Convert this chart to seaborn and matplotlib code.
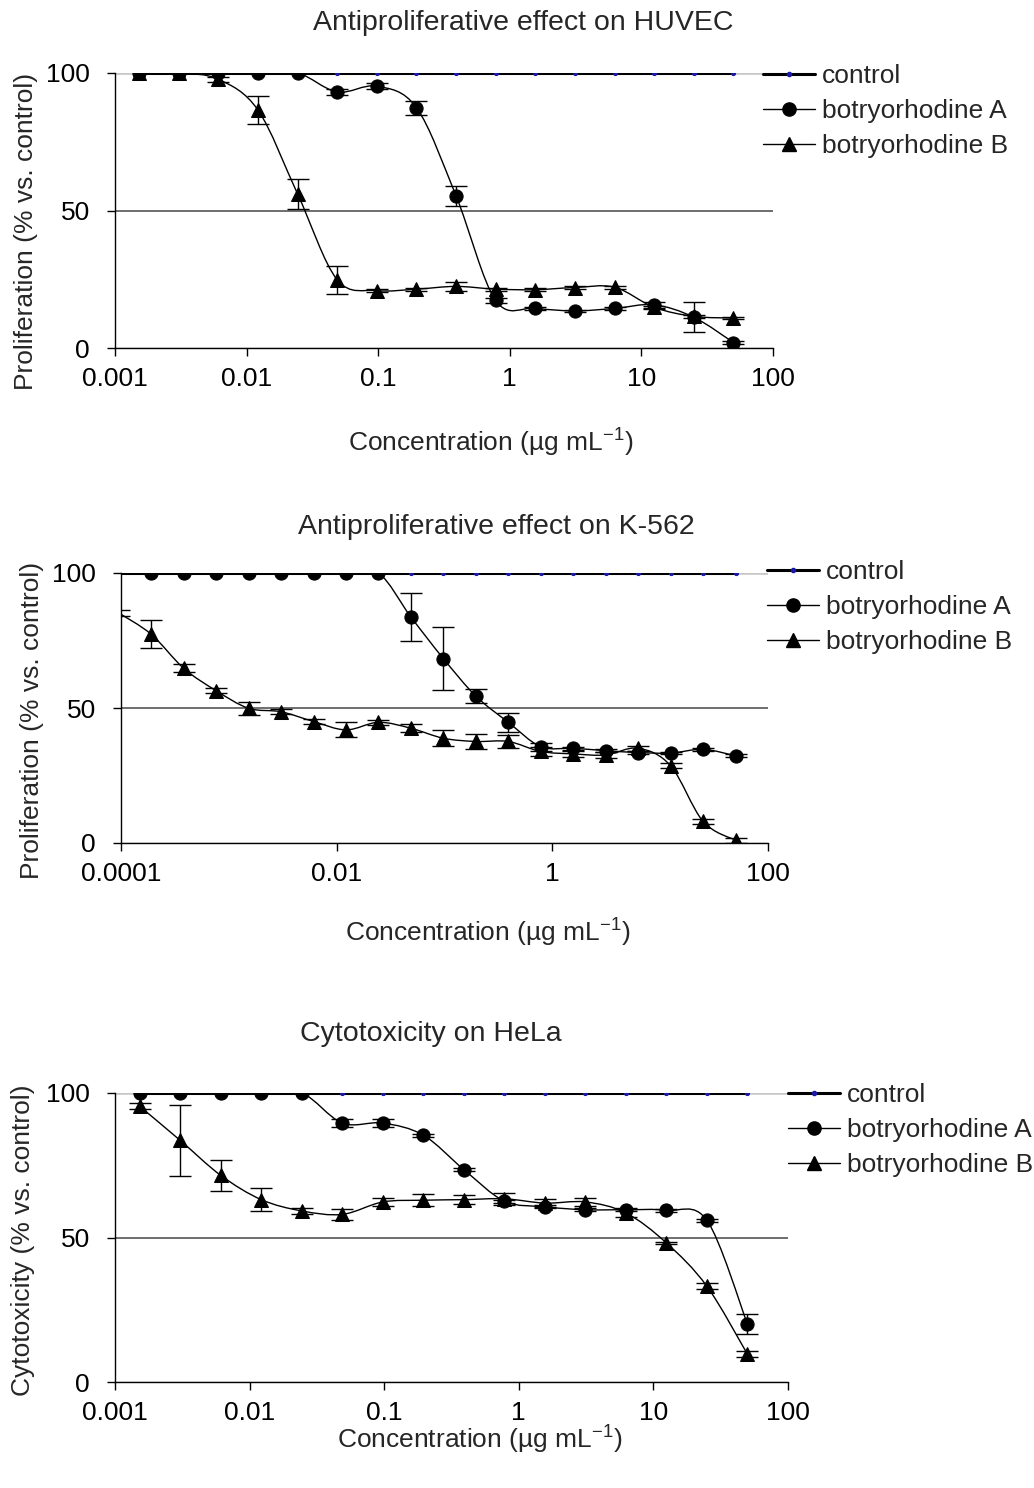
import numpy as np
import pandas as pd
import seaborn as sns
import matplotlib
matplotlib.use("Agg")
import matplotlib.pyplot as plt
from matplotlib.path import Path
from matplotlib.patches import PathPatch
from matplotlib.lines import Line2D
from matplotlib.ticker import NullLocator

# ---------------- data ----------------
conc_16 = [0.001526, 0.003052, 0.006104, 0.01221, 0.02441, 0.04883, 0.09766, 0.1953,
           0.3906, 0.7813, 1.5625, 3.125, 6.25, 12.5, 25, 50]
conc_20 = [0.00009537, 0.0001907, 0.0003815, 0.0007629, 0.001526, 0.003052, 0.006104,
           0.01221, 0.02441, 0.04883, 0.09766, 0.1953, 0.3906, 0.7813, 1.5625, 3.125,
           6.25, 12.5, 25, 50]

huvec_control = [100] * 16
huvec_a = [100, 100, 100, 100, 100, 93.1, 95.2, 87.4, 55.3, 17.3, 14.5, 13.5, 14.4, 15.7, 11.2, 2.0]
huvec_a_err = [0, 0, 0, 0, 0, 1, 1, 2.5, 3.7, 1, 0.5, 0.5, 0.5, 1, 5.5, 0.5]
huvec_b = [100, 100, 97.7, 86.5, 56.0, 24.8, 20.9, 21.4, 22.4, 21.4, 21.2, 22.0, 22.1, 14.8, 11.5, 10.9]
huvec_b_err = [0, 0, 1, 5, 5.6, 5, 0.5, 0.5, 1.5, 0.5, 0.5, 0.5, 0.5, 0.5, 0.5, 0.5]

k562_control = [100] * 20
k562_a = [np.nan, 100, 100, 100, 100, 100, 100, 100, 100, 83.7, 68.3, 54.4, 44.7, 35.7,
          35.1, 34.2, 33.5, 33.3, 34.7, 32.3]
k562_a_err = [0, 0, 0, 0, 0, 0, 0, 0, 0, 9, 11.8, 2.7, 3.5, 1.5, 0.5, 0.5, 0.5, 0.5, 0.5, 0.5]
k562_b = [85.2, 77.3, 64.7, 56.4, 49.9, 48.6, 45.0, 41.9, 44.7, 42.5, 38.8, 37.6, 37.6,
          33.9, 33.0, 32.6, 35.1, 28.6, 8.0, 1.0]
k562_b_err = [1, 5.2, 1.5, 1, 2.5, 1, 1, 2.8, 1, 1.5, 3, 2.7, 2.5, 1.5, 1, 1, 1, 1, 1, 1]

hela_control = [100] * 16
hela_a = [100, 100, 100, 100, 100, 89.6, 89.6, 85.4, 73.5, 62.6, 60.6, 59.6, 59.6, 59.4, 55.9, 20.0]
hela_a_err = [0, 0, 0, 0, 0, 1.5, 1.5, 0.5, 0.5, 0.5, 0.5, 0.5, 0.5, 0.5, 0.5, 3.5]
hela_b = [95.4, 83.6, 71.5, 63.1, 59.2, 58.0, 62.3, 62.9, 63.1, 63.4, 61.9, 62.3, 58.5, 48.1, 33.1, 9.6]
hela_b_err = [1, 12.3, 5.3, 4.0, 1.0, 2.0, 1.5, 2.0, 1.5, 2.0, 1.5, 1.5, 1.5, 0.5, 1.0, 1.0]

ticks_a = [0.001, 0.01, 0.1, 1, 10, 100]
ticklabels_a = ["0.001", "0.01", "0.1", "1", "10", "100"]
ticks_b = [0.0001, 0.01, 1, 100]
ticklabels_b = ["0.0001", "0.01", "1", "100"]
yticks = [0, 50, 100]
ytick_labels = ["0", "50", "100"]

series_names = ["control", "botryorhodine A", "botryorhodine B"]
titles = ["Antiproliferative effect on HUVEC", "Antiproliferative effect on K-562",
          "Cytotoxicity on HeLa"]
ylabels = ["Proliferation (% vs. control)", "Proliferation (% vs. control)",
           "Cytotoxicity (% vs. control)"]
xlabel = "Concentration (\u00b5g mL$^{-1}$)"

# ---------------- style ----------------
sns.set_theme(style="white")
plt.rcParams["font.family"] = ["Liberation Sans", "DejaVu Sans"]
plt.rcParams["mathtext.fontset"] = "custom"
plt.rcParams["mathtext.rm"] = "Liberation Sans"
plt.rcParams["mathtext.it"] = "Liberation Sans:italic"
plt.rcParams["mathtext.default"] = "regular"

W, H = 1034, 1488
DPI = 100
FS = 19
TFS = 20.5
BLUE = "#1a1aa6"

fig = plt.figure(figsize=(W / DPI, H / DPI), dpi=DPI)
fig.patch.set_facecolor("white")


def px_axes(left, right, top, bottom):
    return fig.add_axes([left / W, 1 - bottom / H, (right - left) / W, (bottom - top) / H])


def smooth_curve(ax, x, y, **kw):
    x = np.asarray(x, float)
    y = np.asarray(y, float)
    m = np.isfinite(y)
    pts = np.column_stack([np.log10(x[m]), y[m]])
    n = len(pts)
    verts = [pts[0]]
    codes = [Path.MOVETO]
    for i in range(n - 1):
        p0 = pts[i - 1] if i > 0 else pts[i]
        p1 = pts[i]
        p2 = pts[i + 1]
        p3 = pts[i + 2] if i + 2 < n else pts[i + 1]
        c1 = p1 + (p2 - p0) / 6.0
        c2 = p2 - (p3 - p1) / 6.0
        verts += [c1, c2, p2]
        codes += [Path.CURVE4] * 3
    verts = np.array(verts)
    verts[:, 0] = 10 ** verts[:, 0]
    patch = PathPatch(Path(verts, codes), facecolor="none", transform=ax.transData, **kw)
    ax.add_patch(patch)


def draw_panel(ax, conc, control, a, a_err, b, b_err, xlim, xt, xtl):
    conc = np.asarray(conc, float)
    df = pd.DataFrame({"conc": conc, "control": control, "A": a, "B": b,
                       "Aerr": a_err, "Berr": b_err})
    ax.set_xscale("log")
    ax.set_xlim(*xlim)
    ax.set_ylim(0, 100)

    # control
    sns.lineplot(data=df, x="conc", y="control", ax=ax, color="black", lw=2.2,
                 marker="o", markersize=3, markerfacecolor=BLUE, markeredgecolor=BLUE,
                 estimator=None, sort=False, zorder=2)
    # smoothed lines
    smooth_curve(ax, df["conc"], df["A"], edgecolor="black", lw=1.0, zorder=2.5)
    smooth_curve(ax, df["conc"], df["B"], edgecolor="black", lw=1.0, zorder=2.5)
    # error bars
    for col, ecol in (("A", "Aerr"), ("B", "Berr")):
        sub = df[(df[ecol] > 0) & df[col].notna()]
        ax.errorbar(sub["conc"], sub[col], yerr=sub[ecol], fmt="none", ecolor="black",
                    elinewidth=1.0, capsize=8, capthick=1.0, zorder=3)
    # markers (only those inside the x range)
    vis = df[df["conc"] >= xlim[0]]
    sns.lineplot(data=vis, x="conc", y="A", ax=ax, color="black", linestyle="none",
                 marker="o", markersize=9.5, markeredgecolor="black",
                 estimator=None, sort=False, zorder=4)
    sns.lineplot(data=vis, x="conc", y="B", ax=ax, color="black", linestyle="none",
                 marker="^", markersize=9.5, markeredgecolor="black",
                 estimator=None, sort=False, zorder=4)

    ax.set_xticks(xt, xtl)
    ax.xaxis.set_minor_locator(NullLocator())
    ax.set_yticks(yticks, ytick_labels)
    ax.set_axisbelow(True)
    ax.yaxis.grid(True)
    ax.xaxis.grid(False)
    for gl, c, lw in zip(ax.get_ygridlines(), ["#999999", "#555555", "#c8c8c8"], [1.0, 1.2, 2.6]):
        gl.set_color(c)
        gl.set_linewidth(lw)
    for s in ("top", "right"):
        ax.spines[s].set_visible(False)
    for s in ("left", "bottom"):
        ax.spines[s].set_color("black")
        ax.spines[s].set_linewidth(1.0)
    ax.tick_params(axis="both", which="major", direction="out", length=6, width=1.0,
                   color="black", labelsize=FS, labelcolor="black")
    ax.tick_params(axis="y", pad=12)
    ax.tick_params(axis="x", pad=8, bottom=True)
    ax.tick_params(axis="y", left=True)
    ax.set_xlabel("")
    ax.set_ylabel("")


def add_legend(ax, x_px, top_px):
    handles = [
        Line2D([], [], color="black", lw=2.2, marker="o", ms=3, mfc=BLUE, mec=BLUE),
        Line2D([], [], color="black", lw=1.0, marker="o", ms=9.5, mfc="black", mec="black"),
        Line2D([], [], color="black", lw=1.0, marker="^", ms=9.5, mfc="black", mec="black"),
    ]
    fs_px = FS * DPI / 72
    ax.legend(handles, series_names, loc="upper left",
              bbox_to_anchor=(x_px / W, 1 - top_px / H), bbox_transform=fig.transFigure,
              frameon=False, fontsize=FS, borderpad=0, borderaxespad=0,
              handlelength=52 / fs_px, handletextpad=7 / fs_px, labelspacing=0.42)


# ---------------- panels ----------------
ax1 = px_axes(115, 773, 73, 348)
draw_panel(ax1, conc_16, huvec_control, huvec_a, huvec_a_err, huvec_b, huvec_b_err,
           (0.001, 100), ticks_a, ticklabels_a)
add_legend(ax1, 763, 64)

ax2 = px_axes(121, 768, 573, 843)
draw_panel(ax2, conc_20, k562_control, k562_a, k562_a_err, k562_b, k562_b_err,
           (0.0001, 100), ticks_b, ticklabels_b)
add_legend(ax2, 767, 560)

ax3 = px_axes(115, 788, 1093, 1382)
draw_panel(ax3, conc_16, hela_control, hela_a, hela_a_err, hela_b, hela_b_err,
           (0.001, 100), ticks_a, ticklabels_a)
add_legend(ax3, 788, 1083)

# titles
fig.text(313 / W, 1 - 30 / H, titles[0], ha="left", va="baseline", fontsize=TFS)
fig.text(298 / W, 1 - 534 / H, titles[1], ha="left", va="baseline", fontsize=TFS)
fig.text(300 / W, 1 - 1041 / H, titles[2], ha="left", va="baseline", fontsize=TFS)

# axis labels
for ax, yl, (lx, ly_px), (yx_px, yy_px), (left, right, top, bottom) in [
    (ax1, ylabels[0], (491, 452), (26, 231), (115, 773, 73, 348)),
    (ax2, ylabels[1], (488, 942), (32, 720), (121, 768, 573, 843)),
    (ax3, ylabels[2], (480, 1449), (23, 1240), (115, 788, 1093, 1382)),
]:
    ax.set_xlabel(xlabel, fontsize=FS, va="baseline", ha="center")
    ax.xaxis.set_label_coords((lx - left) / (right - left), -(ly_px - bottom) / (bottom - top))
    ax.set_ylabel(yl, fontsize=FS, va="center", ha="center", rotation=90)
    ax.yaxis.set_label_coords((yx_px - left) / (right - left), (bottom - yy_px) / (bottom - top))

fig.savefig("out.png", dpi=DPI, facecolor="white")
